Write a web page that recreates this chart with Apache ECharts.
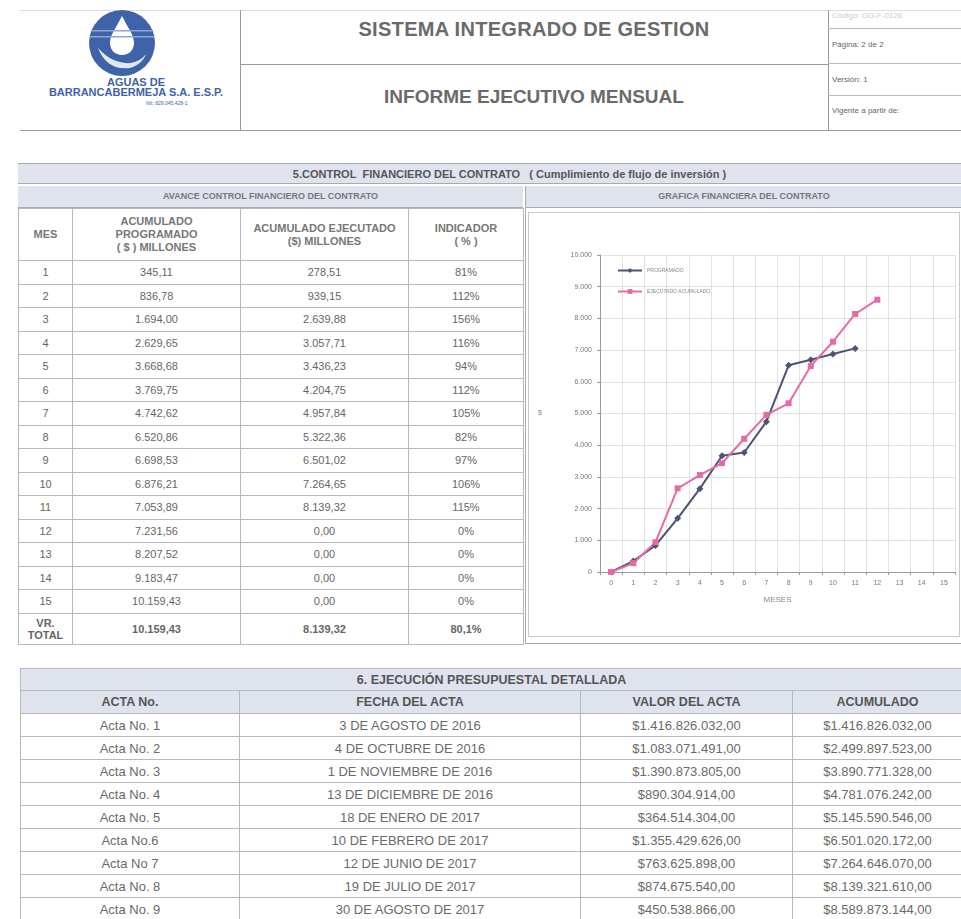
<!doctype html>
<html>
<head>
<meta charset="utf-8">
<title>Informe Ejecutivo Mensual</title>
<script src="https://cdn.jsdelivr.net/npm/echarts@6/dist/echarts.min.js"></script>
<style>
  body { margin: 0; background: #fff; font-family: "Liberation Sans", Arial, sans-serif; color: #555; }
  #page { position: relative; width: 961px; height: 919px; overflow: hidden; background: #fff; }
  .abs { position: absolute; }
  .hl { position: absolute; height: 0; border-top: 1px solid #9a9a9a; }
  .vl { position: absolute; width: 0; border-left: 1px solid #9a9a9a; }
  table { border-collapse: collapse; table-layout: fixed; position: absolute; }
  td { border: 1px solid #b5b8c0; text-align: center; padding: 0; font-size: 11px; color: #666; overflow: hidden; white-space: nowrap; }
  .band { background: #dfe3ee; font-weight: bold; color: #555; }
  .hdr td { font-weight: bold; color: #777; white-space: normal; line-height: 13px; }
  .narrow td { font-size: 13px; color: #6a6a6a; }
  .narrow td.band { font-size: 12.5px; color: #555; }
  #chart { position: absolute; left: 528px; top: 212px; width: 432px; height: 425px; }
</style>
</head>
<body>
<div id="page">
  <!-- encabezado -->
  <div class="hl" style="left:20px;top:10px;width:941px;border-color:#ddd"></div>
  <div class="vl" style="left:240px;top:10px;height:120px"></div>
  <div class="hl" style="left:240px;top:64px;width:588px"></div>
  <div class="vl" style="left:828px;top:10px;height:120px"></div>
  <div class="hl" style="left:828px;top:28px;width:133px;border-color:#bbb"></div>
  <div class="hl" style="left:828px;top:63px;width:133px;border-color:#bbb"></div>
  <div class="hl" style="left:828px;top:95px;width:133px;border-color:#bbb"></div>
  <div class="hl" style="left:20px;top:130px;width:941px"></div>

  <svg class="abs" style="left:86px;top:8px" width="72" height="70" viewBox="0 0 72 70">
    <circle cx="36" cy="35" r="33" fill="#3f63a8"/>
    <path d="M36 8 C30 20 24 27 24 35 C24 42 29 47 36 47 C43 47 48 42 48 35 C48 27 42 20 36 8 Z" fill="#fff"/>
    <path d="M12 40 C18 56 30 62 44 60 C52 58 58 52 60 46 C54 54 44 57 34 54 C24 52 18 46 12 40 Z" fill="#fff" opacity="0.85"/>
    <rect x="6" y="22" width="60" height="1.5" fill="#8fa7d4"/>
    <rect x="4" y="28" width="64" height="1.5" fill="#8fa7d4"/>
  </svg>
  <div class="abs" style="left:26px;top:77px;width:220px;text-align:center;color:#3f63a8;font-weight:bold;font-size:11px;line-height:10px">AGUAS DE<br>BARRANCABERMEJA S.A. E.S.P.</div>
  <div class="abs" style="left:146px;top:100px;color:#3f63a8;font-size:5px">NIt: 829.045.428-1</div>

  <div class="abs" style="left:240px;top:18px;width:588px;text-align:center;font-size:20px;font-weight:bold;letter-spacing:0.3px;color:#6a6a6a">SISTEMA INTEGRADO DE GESTION</div>
  <div class="abs" style="left:240px;top:86px;width:588px;text-align:center;font-size:19px;font-weight:bold;color:#6a6a6a">INFORME EJECUTIVO MENSUAL</div>
  <div class="abs" style="left:832px;top:11px;font-size:8px;color:#ccc">Código: GG-F-0126</div>
  <div class="abs" style="left:832px;top:40px;font-size:8px;color:#666">Página: 2 de 2</div>
  <div class="abs" style="left:832px;top:75px;font-size:8px;color:#666">Versión: 1</div>
  <div class="abs" style="left:832px;top:106px;font-size:8px;color:#666">Vigente a partir de:</div>

  <!-- seccion 5 -->
  <div class="abs band" style="left:18px;top:163px;width:943px;height:21px;border-top:1px solid #aaa;border-bottom:1px solid #aaa;font-size:11px;line-height:21px;text-align:center;padding-left:40px;box-sizing:border-box">5.CONTROL&nbsp; FINANCIERO DEL CONTRATO&nbsp;&nbsp; ( Cumplimiento de flujo de inversión )</div>
  <div class="abs band" style="left:18px;top:186px;width:505px;height:21px;font-size:9px;line-height:21px;text-align:center;color:#777;border-bottom:1px solid #aaa">AVANCE CONTROL FINANCIERO DEL CONTRATO</div>
  <div class="abs band" style="left:525px;top:186px;width:436px;height:21px;font-size:9px;line-height:21px;text-align:center;color:#777;border-bottom:1px solid #aaa;border-left:1px solid #aaa">GRAFICA FINANCIERA DEL CONTRATO</div>

  <table id="tablaAvance" style="left:18px;top:208px;width:505px">
    <colgroup><col style="width:54px"><col style="width:168px"><col style="width:168px"><col style="width:115px"></colgroup>
    <tbody></tbody>
  </table>

  <div class="abs" style="left:525px;top:208px;width:436px;height:436px;border-left:1px solid #aaa;border-bottom:1px solid #aaa;box-sizing:border-box"></div>
  <div class="abs" style="left:528px;top:212px;width:432px;height:425px;border:1px solid #c8c8c8;box-sizing:border-box"></div>
  <div id="chart"></div>

  <!-- seccion 6 -->
  <table id="tablaActas" class="narrow" style="left:20px;top:668px;width:942px">
    <colgroup><col style="width:219px"><col style="width:341px"><col style="width:212px"><col style="width:170px"></colgroup>
    <tbody></tbody>
  </table>
</div>

<script>
// ---- datos: control financiero (millones de $) ----
var meses = ['1','2','3','4','5','6','7','8','9','10','11','12','13','14','15'];
var acumProgramado = ['345,11','836,78','1.694,00','2.629,65','3.668,68','3.769,75','4.742,62','6.520,86','6.698,53','6.876,21','7.053,89','7.231,56','8.207,52','9.183,47','10.159,43'];
var acumEjecutado = ['278,51','939,15','2.639,88','3.057,71','3.436,23','4.204,75','4.957,84','5.322,36','6.501,02','7.264,65','8.139,32','0,00','0,00','0,00','0,00'];
var indicador = ['81%','112%','156%','116%','94%','112%','105%','82%','97%','106%','115%','0%','0%','0%','0%'];
var totales = ['10.159,43','8.139,32','80,1%'];

// ---- datos: grafica ----
var ejeMeses = ['0','1','2','3','4','5','6','7','8','9','10','11','12','13','14','15'];
var serieProgramado = [0, 345.11, 836.78, 1694.00, 2629.65, 3668.68, 3769.75, 4742.62, 6520.86, 6698.53, 6876.21, 7053.89];
var serieEjecutado = [0, 278.51, 939.15, 2639.88, 3057.71, 3436.23, 4204.75, 4957.84, 5322.36, 6501.02, 7264.65, 8139.32, 8589.87];

// ---- datos: ejecucion presupuestal ----
var actas = ['Acta  No. 1','Acta No. 2','Acta No. 3','Acta No. 4','Acta No. 5','Acta No.6','Acta No 7','Acta No. 8','Acta No. 9'];
var fechas = ['3 DE AGOSTO DE 2016','4 DE OCTUBRE DE 2016','1 DE NOVIEMBRE DE 2016','13 DE DICIEMBRE DE 2016','18 DE ENERO DE 2017','10 DE FEBRERO DE 2017','12 DE JUNIO DE 2017','19 DE JULIO DE 2017','30 DE AGOSTO DE 2017'];
var valores = ['$1.416.826.032,00','$1.083.071.491,00','$1.390.873.805,00','$890.304.914,00','$364.514.304,00','$1.355.429.626,00','$763.625.898,00','$874.675.540,00','$450.538.866,00'];
var acumulados = ['$1.416.826.032,00','$2.499.897.523,00','$3.890.771.328,00','$4.781.076.242,00','$5.145.590.546,00','$6.501.020.172,00','$7.264.646.070,00','$8.139.321.610,00','$8.589.873.144,00'];

// tabla avance
var html = '<tr class="hdr" style="height:52px"><td>MES</td><td>ACUMULADO<br>PROGRAMADO<br>( $ ) MILLONES</td><td>ACUMULADO EJECUTADO<br>($) MILLONES</td><td>INDICADOR<br>( % )</td></tr>';
for (var i = 0; i < meses.length; i++) {
  html += '<tr style="height:23.5px"><td>' + meses[i] + '</td><td>' + acumProgramado[i] + '</td><td>' + acumEjecutado[i] + '</td><td>' + indicador[i] + '</td></tr>';
}
html += '<tr style="height:31px;font-weight:bold"><td style="font-weight:bold;line-height:12px;white-space:normal">VR.<br>TOTAL</td><td style="font-weight:bold">' + totales[0] + '</td><td style="font-weight:bold">' + totales[1] + '</td><td style="font-weight:bold">' + totales[2] + '</td></tr>';
document.querySelector('#tablaAvance tbody').innerHTML = html;

// tabla actas
var html2 = '<tr style="height:22px"><td colspan="4" class="band">6. EJECUCIÓN PRESUPUESTAL DETALLADA</td></tr>';
html2 += '<tr style="height:23px"><td class="band">ACTA No.</td><td class="band">FECHA DEL ACTA</td><td class="band">VALOR DEL ACTA</td><td class="band">ACUMULADO</td></tr>';
for (var j = 0; j < actas.length; j++) {
  html2 += '<tr style="height:23px"><td>' + actas[j] + '</td><td>' + fechas[j] + '</td><td>' + valores[j] + '</td><td>' + acumulados[j] + '</td></tr>';
}
document.querySelector('#tablaActas tbody').innerHTML = html2;

// grafica
var myChart = echarts.init(document.getElementById('chart'));

myChart.setOption({
  animation: false,
  textStyle: { fontFamily: 'Liberation Sans' },
  grid: { left: 72, right: 5, top: 43, bottom: 65 },
  legend: {
    orient: 'vertical',
    left: 84,
    top: 51,
    itemWidth: 24,
    itemHeight: 6,
    itemGap: 16,
    textStyle: { fontSize: 5, color: '#888' },
    data: ['PROGRAMADO', 'EJECUTADO ACUMULADO']
  },
  xAxis: {
    type: 'category',
    data: ejeMeses,
    boundaryGap: true,
    name: 'MESES',
    nameLocation: 'middle',
    nameGap: 24,
    nameTextStyle: { fontSize: 8, color: '#888' },
    axisLine: { lineStyle: { color: '#999' } },
    axisTick: { show: true, length: 3, lineStyle: { color: '#999' } },
    axisLabel: { fontSize: 7, color: '#777', margin: 8 },
    splitLine: { show: true, lineStyle: { color: '#e2e2e2' } }
  },
  yAxis: {
    type: 'value',
    min: 0,
    max: 10000,
    interval: 1000,
    name: '$',
    nameLocation: 'middle',
    nameRotate: 0,
    nameGap: 58,
    nameTextStyle: { fontSize: 7, color: '#888' },
    axisLine: { show: true, lineStyle: { color: '#999' } },
    axisTick: { show: true, length: 3, lineStyle: { color: '#999' } },
    axisLabel: {
      fontSize: 7, color: '#777', margin: 8,
      formatter: function (v) { return v === 0 ? '0' : String(v).replace(/\B(?=(\d{3})+(?!\d))/g, '.'); }
    },
    splitLine: { show: true, lineStyle: { color: '#e2e2e2' } }
  },
  series: [{
    name: 'PROGRAMADO',
    type: 'line',
    data: serieProgramado,
    symbol: 'diamond',
    symbolSize: 7,
    itemStyle: { color: '#4d5375' },
    lineStyle: { color: '#4d5375', width: 2 }
  }, {
    name: 'EJECUTADO ACUMULADO',
    type: 'line',
    data: serieEjecutado,
    symbol: 'rect',
    symbolSize: 6,
    itemStyle: { color: '#e66aa5' },
    lineStyle: { color: '#e66aa5', width: 2 }
  }]
});
</script>
</body>
</html>
